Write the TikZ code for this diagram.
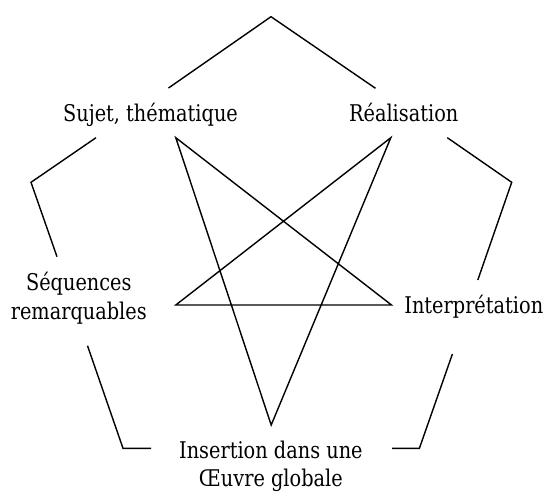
\documentclass[tikz,border=0pt]{standalone}
\usepackage{fontspec}
\setmainfont{DejaVu Serif}[FakeStretch=0.84]
\begin{document}
\begin{tikzpicture}[x=1pt,y=-1pt,
  lbl/.style={font=\fontsize{23}{28.5}\selectfont, inner sep=0pt, align=center, anchor=base},
  pline/.style={line width=1.4pt, line join=miter},
  starline/.style={line width=1.4pt, line join=miter}]
\useasboundingbox (0,0) rectangle (548,491);
% labels (base anchor = baseline of the last line)
\node[lbl] (sujet) at (150.5,121.7) {Sujet, thématique};
\node[lbl] (real) at (403.7,121.7) {Réalisation};
\node[lbl] (seq) at (78.8,319.3) {Séquences\\remarquables};
\node[lbl] (interp) at (473.8,313.3) {Interprétation};
\node[lbl] (ins) at (270.9,486.7) {Insertion dans une\\Œuvre globale};
% pentagon vertices
\coordinate (vT) at (271,16.7);
\coordinate (vL) at (31,182.3);
\coordinate (vR) at (511.7,182.3);
\coordinate (vBL) at (123,448.3);
\coordinate (vBR) at (419.4,448.3);
% gap ends of the pentagon edges
\coordinate (sujetA) at (168.5,88);
\coordinate (sujetB) at (96,137.7);
\coordinate (realA) at (375.5,88.3);
\coordinate (realB) at (447.3,137.7);
\coordinate (seqA) at (57,256.7);
\coordinate (seqB) at (87.5,345.7);
\coordinate (interpA) at (477.8,280);
\coordinate (interpB) at (452.4,354);
\coordinate (insA) at (151,448.3);
\coordinate (insB) at (392.2,448.3);
% star points
\coordinate (pS) at (175.8,137.7);
\coordinate (pR) at (390.8,137.7);
\coordinate (pQ) at (175.8,305);
\coordinate (pI) at (391.5,305);
\coordinate (pB) at (271.2,425);
% pentagon
\draw[pline] (sujetA) -- (vT) -- (realA);
\draw[pline] (sujetB) -- (vL) -- (seqA);
\draw[pline] (seqB) -- (vBL) -- (insA);
\draw[pline] (insB) -- (vBR) -- (interpB);
\draw[pline] (interpA) -- (vR) -- (realB);
% star
\draw[starline] (pS) -- (pB) -- (pR) -- (pQ) -- (pI) -- cycle;
\end{tikzpicture}
\end{document}
